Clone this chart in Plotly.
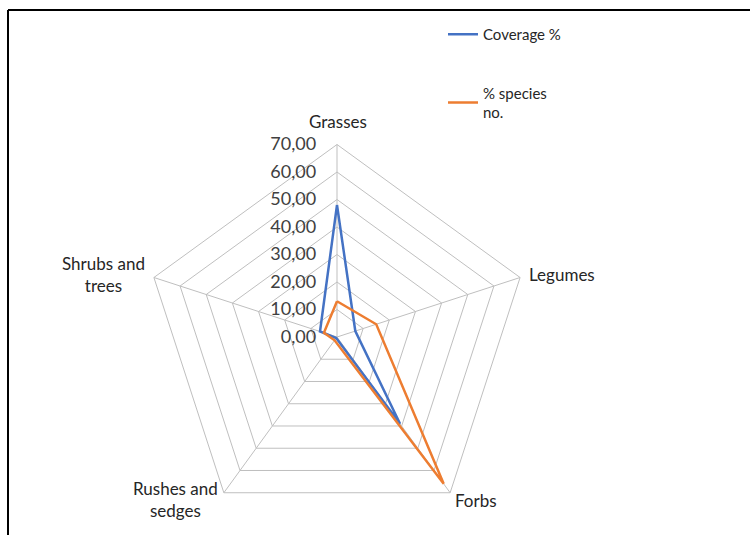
import plotly.graph_objects as go

categories = ["Grasses", "Legumes", "Forbs", "Rushes and sedges", "Shrubs and trees"]
category_labels = ["Grasses", "Legumes", "Forbs", "Rushes and<br>sedges", "Shrubs and<br>trees"]
coverage = [48.0, 7.0, 39.0, 0.5, 6.5]
species = [13.0, 15.0, 66.0, 1.5, 5.0]
radial_ticks = [0, 10, 20, 30, 40, 50, 60, 70]

W, H = 750, 535
cx, cy, R = 337, 337, 192.5  # polar centre and outer radius in pixels

# label anchor points (pixels) for the category names around the web
label_pos = [(338, 122), (562, 274), (476, 500), (175, 499), (103, 275)]


def closed(v):
    return v + v[:1]


fig = go.Figure()
fig.add_trace(go.Scatterpolar(
    r=closed(coverage), theta=closed(categories), mode="lines",
    name="Coverage %", line=dict(color="#4472C4", width=2.5),
    legendgroup="a",
))
fig.add_trace(go.Scatterpolar(
    r=closed(species), theta=closed(categories), mode="lines",
    name="% species<br>no.", line=dict(color="#ED7D31", width=2.5),
    legendgroup="b",
))

annotations = [
    dict(text=t, x=px / W, y=1 - py / H, xref="paper", yref="paper",
         showarrow=False, xanchor="center", yanchor="middle", align="center",
         font=dict(size=17, color="#262626"))
    for t, (px, py) in zip(category_labels, label_pos)
]

fig.update_layout(
    width=W, height=H,
    margin=dict(l=0, r=0, t=0, b=0),
    paper_bgcolor="white", plot_bgcolor="white",
    separators=",.",
    font=dict(family="Lato, Open Sans, sans-serif", size=16, color="#262626"),
    polar=dict(
        domain=dict(x=[(cx - R) / W, (cx + R) / W],
                    y=[(H - cy - R) / H, (H - cy + R) / H]),
        gridshape="linear",
        bgcolor="white",
        radialaxis=dict(
            range=[0, 70], tickvals=radial_ticks, tickformat=".2f",
            angle=90, side="counterclockwise", tickangle=90,
            showline=False, ticks="outside", ticklen=14,
            tickcolor="rgba(0,0,0,0)",
            gridcolor="#BFBFBF", gridwidth=1,
            tickfont=dict(size=18, color="#404040"),
        ),
        angularaxis=dict(
            direction="clockwise", rotation=90,
            showline=True, linecolor="#BFBFBF", linewidth=1,
            gridcolor="#BFBFBF", ticks="", showticklabels=False,
        ),
    ),
    legend=dict(
        x=443 / W, y=1 - 18 / H, xanchor="left", yanchor="top",
        bgcolor="rgba(0,0,0,0)", tracegroupgap=36,
        font=dict(size=15, color="#262626"),
    ),
    annotations=annotations,
    shapes=[
        dict(type="line", xref="paper", yref="paper",
             x0=8 / W, x1=1, y0=1 - 10 / H, y1=1 - 10 / H,
             line=dict(color="black", width=2)),
        dict(type="line", xref="paper", yref="paper",
             x0=8 / W, x1=8 / W, y0=0, y1=1 - 10 / H,
             line=dict(color="black", width=2)),
    ],
)

fig.write_html("out.html")
